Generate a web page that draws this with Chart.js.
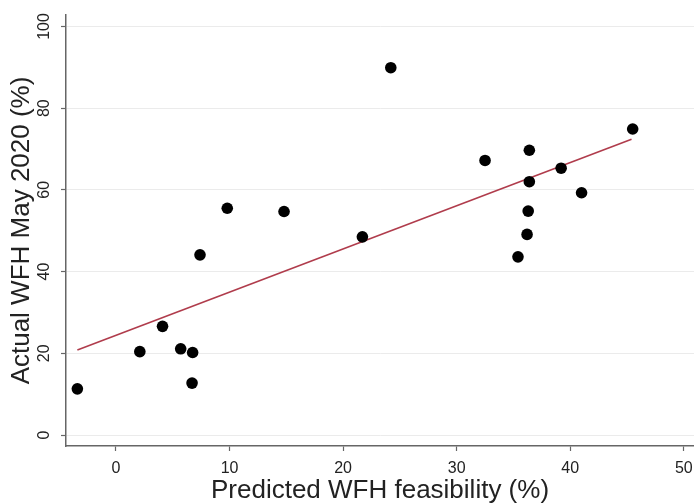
<!DOCTYPE html>
<html>
<head>
<meta charset="utf-8">
<script src="https://cdn.jsdelivr.net/npm/chart.js@4/dist/chart.umd.min.js"></script>
<style>
  html, body { margin: 0; padding: 0; background: #ffffff; }
  #wrap { width: 694px; height: 504px; }
</style>
</head>
<body>
<div id="wrap"><canvas id="c" width="694" height="504"></canvas></div>
<script>
// Predicted WFH feasibility (%)
const feasibility = [-3.4, 2.1, 4.1, 5.7, 6.75, 6.7, 7.4, 9.8, 14.8, 21.7, 24.2, 32.5, 36.4, 36.4, 36.3, 36.2, 35.4, 39.2, 41.0, 45.5];
// Actual WFH May 2020 (%)
const actualWFH = [11.3, 20.4, 26.6, 21.1, 20.2, 12.7, 44.1, 55.5, 54.7, 48.5, 89.9, 67.2, 69.7, 62.0, 54.8, 49.1, 43.6, 65.3, 59.3, 74.9];
// Fitted line end points
const fitX = [-3.4, 45.4];
const fitY = [20.8, 72.4];
// Tick labels
const xTicks = [0, 10, 20, 30, 40, 50];
const yTicks = [0, 20, 40, 60, 80, 100];

const FONT = "'Liberation Sans', Arial, Helvetica, sans-serif";

const points = feasibility.map((x, i) => ({ x: x, y: actualWFH[i] }));
const fitLine = fitX.map((x, i) => ({ x: x, y: fitY[i] }));

new Chart(document.getElementById('c'), {
  type: 'scatter',
  data: {
    datasets: [
      {
        label: 'Fit',
        type: 'line',
        data: fitLine,
        showLine: true,
        borderColor: '#b03c4c',
        borderWidth: 1.6,
        pointRadius: 0,
        fill: false,
        order: 2
      },
      {
        label: 'States',
        data: points,
        backgroundColor: '#000000',
        borderColor: '#000000',
        borderWidth: 0,
        pointRadius: 5.8,
        pointHoverRadius: 5.8,
        order: 1
      }
    ]
  },
  options: {
    responsive: false,
    devicePixelRatio: 1,
    animation: false,
    layout: { autoPadding: false, padding: { top: 15, right: 0, left: 0, bottom: 0 } },
    plugins: {
      legend: { display: false },
      tooltip: { enabled: false }
    },
    scales: {
      x: {
        type: 'linear',
        min: -4.4,
        max: 50.9,
        afterBuildTicks: (s) => { s.ticks = xTicks.map(v => ({ value: v })); },
        afterFit: (s) => { s.height = 58; s.paddingLeft = 0; s.paddingRight = 0; },
        grid: {
          drawOnChartArea: false,
          drawTicks: true,
          tickLength: 5,
          tickColor: '#666666',
          tickWidth: 1.2
        },
        border: { display: true, color: '#666666', width: 1.5 },
        ticks: {
          color: '#222222',
          font: { family: FONT, size: 16 },
          padding: 8,
          maxRotation: 0,
          minRotation: 0
        },
        title: {
          display: true,
          text: 'Predicted WFH feasibility (%)',
          color: '#222222',
          font: { family: FONT, size: 26 },
          padding: { top: 0, bottom: -2 }
        }
      },
      y: {
        type: 'linear',
        min: -2.69,
        max: 102.8,
        afterBuildTicks: (s) => { s.ticks = yTicks.map(v => ({ value: v })); },
        afterFit: (s) => { s.width = 66; s.paddingTop = 0; s.paddingBottom = 0; },
        grid: {
          color: '#ebebeb',
          lineWidth: 1,
          drawTicks: true,
          tickLength: 5,
          tickColor: '#666666',
          tickWidth: 1.2
        },
        border: { display: true, color: '#666666', width: 1.5 },
        ticks: {
          color: '#222222',
          font: { family: FONT, size: 16 },
          padding: 3,
          minRotation: 90,
          maxRotation: 90,
          crossAlign: 'center'
        },
        title: {
          display: true,
          text: 'Actual WFH May 2020 (%)',
          color: '#222222',
          font: { family: FONT, size: 26 },
          padding: { top: 6, bottom: 0 }
        }
      }
    }
  }
});
</script>
</body>
</html>
